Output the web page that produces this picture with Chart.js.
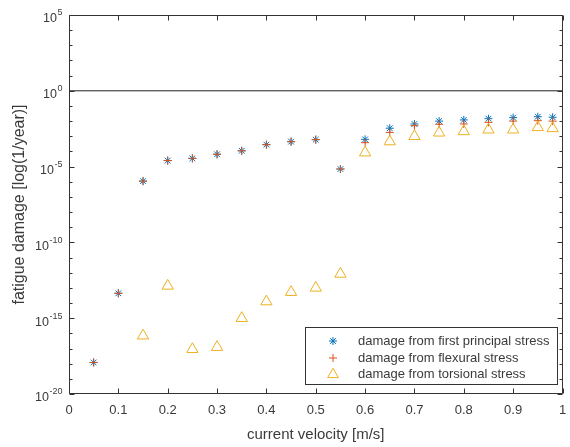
<!DOCTYPE html>
<html>
<head>
<meta charset="utf-8">
<script src="https://cdn.jsdelivr.net/npm/chart.js@4/dist/chart.umd.min.js"></script>
<style>
html,body{margin:0;padding:0;background:#fff;}
#wrap{width:570px;height:447px;position:relative;}
</style>
</head>
<body>
<div id="wrap"><canvas id="c" width="570" height="447"></canvas></div>
<script>
// ---- data ----
const velocity = [0.05,0.1,0.15,0.2,0.25,0.3,0.35,0.4,0.45,0.5,0.55,0.6,0.65,0.7,0.75,0.8,0.85,0.9,0.95,0.98];
const firstPrincipal = [1.2e-18,4.4e-14,1.1e-6,2.5e-5,3.5e-5,6.5e-5,1.1e-4,2.8e-4,4.4e-4,6.0e-4,6.9e-6,6.3e-4,3.4e-3,6.5e-3,1.0e-2,1.2e-2,1.45e-2,1.7e-2,1.95e-2,1.8e-2];
const flexural = [1.2e-18,4.4e-14,1.1e-6,2.5e-5,3.5e-5,6.5e-5,1.1e-4,2.8e-4,4.4e-4,6.0e-4,6.9e-6,3.8e-4,1.8e-3,5.0e-3,6.2e-3,6.5e-3,8.3e-3,1.0e-2,1.07e-2,1.0e-2];
const torsional = [null,null,7e-17,1.35e-13,9e-18,1.23e-17,1e-15,1.25e-14,5.2e-14,1e-13,8.3e-13,8.3e-5,4.5e-4,1.0e-3,1.7e-3,2.1e-3,2.7e-3,2.7e-3,3.9e-3,3.3e-3];
const seriesLabels = ['damage from first principal stress','damage from flexural stress','damage from torsional stress'];
const referenceLineX = [0,1];
const referenceLineY = [1,1];
const xTickValues = [0,0.1,0.2,0.3,0.4,0.5,0.6,0.7,0.8,0.9,1];
const xTickLabels = ['0','0.1','0.2','0.3','0.4','0.5','0.6','0.7','0.8','0.9','1'];
const yTickBase = '10';
const yTickExponents = ['5','0','-5','-10','-15','-20'];
const yMinorExponents = [5,4,3,2,1,0,-1,-2,-3,-4,-5,-6,-7,-8,-9,-10,-11,-12,-13,-14,-15,-16,-17,-18,-19,-20];
const xTitle = 'current velocity [m/s]';
const yTitle = 'fatigue damage [log(1/year)]';

// ---- styles ----
const COLORS = ['#0072BD','#D95319','#EDB120'];
const STYLES = ['star','cross','triangle'];
const RADII = [4,4,6.5];
const AXIS_COLOR = '#333333';
const TEXT_COLOR = '#3a3a3a';
const FONT = '"Liberation Sans", Arial, Helvetica, sans-serif';

function pts(ys){ return velocity.map((v,i)=>({x:v,y:ys[i]})); }

const seriesData = [firstPrincipal, flexural, torsional];
const datasets = seriesData.map((ys,i)=>({
  label: seriesLabels[i],
  data: pts(ys),
  showLine: false,
  pointStyle: STYLES[i],
  pointRadius: RADII[i],
  pointHoverRadius: RADII[i],
  borderColor: COLORS[i],
  backgroundColor: 'rgba(0,0,0,0)',
  pointBorderWidth: 1,
  order: 3 - i
}));
datasets.push({
  label: 'ref',
  data: referenceLineX.map((x,i)=>({x:x,y:referenceLineY[i]})),
  showLine: true,
  borderColor: '#222',
  borderWidth: 1,
  pointRadius: 0,
  order: 10
});

function drawMarker(ctx, style, x, y, r, color){
  ctx.save();
  ctx.strokeStyle = color; ctx.lineWidth = 1;
  if (window.Chart && Chart.helpers && Chart.helpers.drawPoint){
    ctx.fillStyle = 'rgba(0,0,0,0)';
    Chart.helpers.drawPoint(ctx, {pointStyle: style, radius: r, rotation: 0, borderWidth: 1}, x, y);
  }
  ctx.restore();
}

const boxPlugin = {
  id: 'boxPlugin',
  afterDraw(chart){
    const ctx = chart.ctx;
    const a = chart.chartArea;
    const xs = chart.scales.x, ys = chart.scales.y;
    ctx.save();
    ctx.strokeStyle = AXIS_COLOR;
    ctx.lineWidth = 1;
    const L = Math.round(a.left)+0.5, R = Math.round(a.right)-0.5, T = Math.round(a.top)+0.5, B = Math.round(a.bottom)-0.5;
    ctx.beginPath();
    ctx.rect(L, T, R-L, B-T);
    ctx.stroke();
    // x ticks (inward, bottom & top)
    ctx.beginPath();
    xTickValues.forEach(v=>{
      const px = Math.round(xs.getPixelForValue(v))+0.5;
      ctx.moveTo(px, B); ctx.lineTo(px, B-5);
      ctx.moveTo(px, T); ctx.lineTo(px, T+5);
    });
    // y ticks
    yMinorExponents.forEach(e=>{
      const py = Math.round(ys.getPixelForValue(Math.pow(10,e)))+0.5;
      const len = (e % 5 === 0) ? 5 : 3;
      ctx.moveTo(L, py); ctx.lineTo(L+len, py);
      ctx.moveTo(R, py); ctx.lineTo(R-len, py);
    });
    ctx.stroke();
    // y tick labels with superscripts
    ctx.fillStyle = TEXT_COLOR;
    ctx.textBaseline = 'middle';
    ctx.textAlign = 'left';
    const baseFont = '12.5px ' + FONT;
    const expFont = '9px ' + FONT;
    const rightEdge = a.left - 7;
    yTickExponents.forEach(e=>{
      const py = ys.getPixelForValue(Math.pow(10, Number(e)));
      ctx.font = expFont;
      const we = ctx.measureText(e).width;
      ctx.font = baseFont;
      const wb = ctx.measureText(yTickBase).width;
      const x0 = rightEdge - we - wb;
      ctx.fillText(yTickBase, x0, py + 4);
      ctx.font = expFont;
      ctx.fillText(e, x0 + wb + 0.5, py - 2);
    });
    // legend
    const lx = 305.5, ly = 327.5, lw = 252, lh = 57;
    ctx.fillStyle = '#fff';
    ctx.fillRect(lx, ly, lw, lh);
    ctx.strokeStyle = '#333';
    ctx.strokeRect(lx, ly, lw, lh);
    const rowY = [341, 358, 374.5];
    ctx.font = '13px ' + FONT;
    ctx.textBaseline = 'middle';
    seriesLabels.forEach((lab,i)=>{
      drawMarker(ctx, STYLES[i], 333, rowY[i], RADII[i] * (i===2 ? 0.95 : 1), COLORS[i]);
      ctx.fillStyle = TEXT_COLOR;
      ctx.fillText(lab, 358, rowY[i]);
    });
    ctx.restore();
  }
};

new Chart(document.getElementById('c'), {
  type: 'scatter',
  data: { datasets },
  options: {
    responsive: false,
    animation: false,
    devicePixelRatio: 1,
    layout: { padding: { top: 15, right: 5, left: 0, bottom: 0 } },
    plugins: { legend: { display: false }, tooltip: { enabled: false } },
    scales: {
      x: {
        type: 'linear', min: 0, max: 1,
        grid: { display: false, drawTicks: false },
        border: { display: false },
        afterBuildTicks: s => { s.ticks = xTickValues.map(v=>({value:v})); },
        afterFit: s => { s.height = 53; s.paddingLeft = 0; s.paddingRight = 0; },
        ticks: {
          padding: 9,
          color: TEXT_COLOR,
          font: { family: FONT, size: 13 },
          maxRotation: 0, autoSkip: false,
          callback: (v) => { const i = xTickValues.findIndex(t=>Math.abs(t-v)<1e-9); return i>=0 ? xTickLabels[i] : ''; }
        },
        title: { display: true, text: xTitle, color: TEXT_COLOR, font: { family: FONT, size: 15 }, padding: { top: 0, bottom: 3 } }
      },
      y: {
        type: 'logarithmic', min: 1e-20, max: 1e5,
        grid: { display: false, drawTicks: false },
        border: { display: false },
        ticks: { display: false },
        afterFit: s => { s.width = 69; s.paddingTop = 0; s.paddingBottom = 0; },
        title: { display: true, text: yTitle, color: TEXT_COLOR, font: { family: FONT, size: 16 }, padding: { top: 10, bottom: 0 } }
      }
    }
  },
  plugins: [boxPlugin]
});
</script>
</body>
</html>
